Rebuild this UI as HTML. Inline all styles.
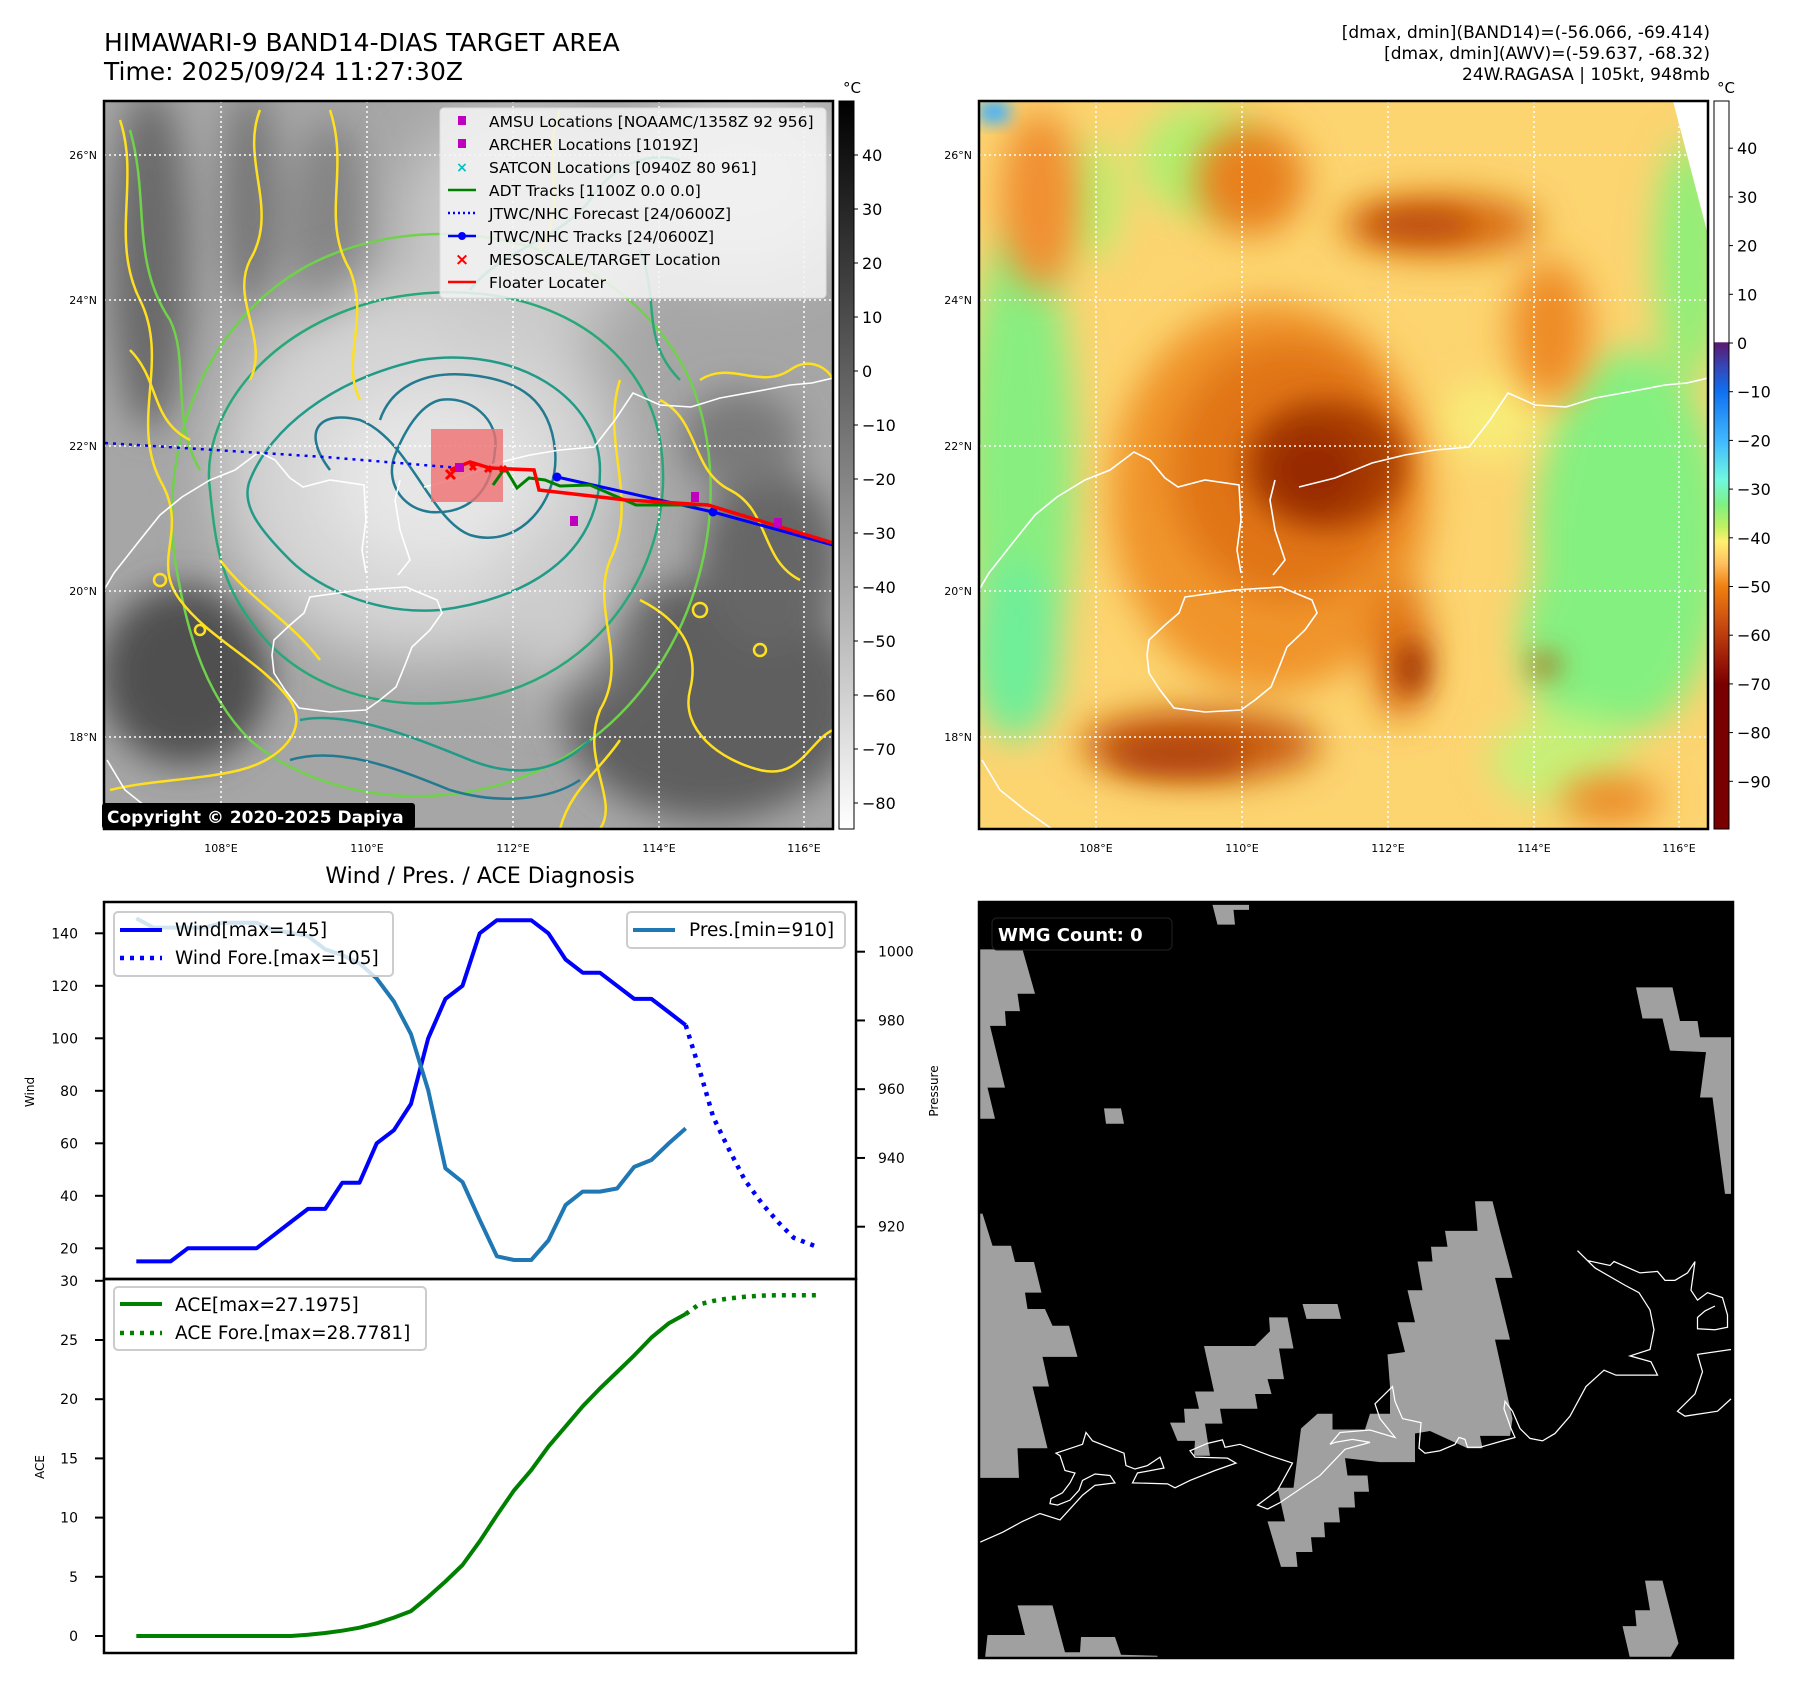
<!DOCTYPE html>
<html><head><meta charset="utf-8">
<style>
html,body{margin:0;padding:0;background:#fff;}
svg{display:block;font-family:"DejaVu Sans","Liberation Sans",sans-serif;}
</style></head>
<body>
<svg id="fig" width="1797" height="1690" viewBox="0 0 1797 1690" xmlns="http://www.w3.org/2000/svg">
<defs>
  <filter id="b8" x="-50%" y="-50%" width="200%" height="200%"><feGaussianBlur stdDeviation="8"/></filter>
  <filter id="b14" x="-50%" y="-50%" width="200%" height="200%"><feGaussianBlur stdDeviation="14"/></filter>
  <filter id="b18" x="-50%" y="-50%" width="200%" height="200%"><feGaussianBlur stdDeviation="18"/></filter>
  <filter id="b30" x="-50%" y="-50%" width="200%" height="200%"><feGaussianBlur stdDeviation="30"/></filter>
  <clipPath id="c1"><rect x="104" y="101" width="729" height="728"/></clipPath>
  <clipPath id="c2"><rect x="979" y="101" width="729" height="728"/></clipPath>
  <clipPath id="cw"><rect x="104" y="902" width="752" height="377"/></clipPath>
  <clipPath id="ca"><rect x="104" y="1279" width="752" height="374"/></clipPath>
  <linearGradient id="g1" x1="0" y1="0" x2="0" y2="1">
    <stop offset="0" stop-color="#000"/><stop offset="1" stop-color="#fff"/>
  </linearGradient>
  <linearGradient id="g2" x1="0" y1="0" x2="0" y2="1">
    <stop offset="0" stop-color="#fff"/><stop offset="0.331" stop-color="#fff"/>
    <stop offset="0.332" stop-color="#5a1a70"/><stop offset="0.366" stop-color="#3448b8"/>
    <stop offset="0.399" stop-color="#1070f0"/><stop offset="0.466" stop-color="#40b8ff"/>
    <stop offset="0.52" stop-color="#70f8e0"/><stop offset="0.555" stop-color="#80f080"/>
    <stop offset="0.585" stop-color="#c0f060"/><stop offset="0.605" stop-color="#fff070"/>
    <stop offset="0.635" stop-color="#ffc060"/><stop offset="0.667" stop-color="#f08010"/>
    <stop offset="0.72" stop-color="#c84a10"/><stop offset="0.77" stop-color="#9a1808"/>
    <stop offset="0.801" stop-color="#7a0000"/><stop offset="1" stop-color="#7a0000"/>
  </linearGradient>
</defs>

<text x="104" y="51" font-size="25">HIMAWARI-9 BAND14-DIAS TARGET AREA</text>
<text x="104" y="80" font-size="25">Time: 2025/09/24 11:27:30Z</text>
<g font-size="17" text-anchor="end">
  <text x="1710" y="38">[dmax, dmin](BAND14)=(-56.066, -69.414)</text>
  <text x="1710" y="59">[dmax, dmin](AWV)=(-59.637, -68.32)</text>
  <text x="1710" y="80">24W.RAGASA | 105kt, 948mb</text>
</g>

<!-- MAP 1 -->
<g clip-path="url(#c1)">
  <rect x="104" y="101" width="729" height="728" fill="#a6a6a6"/>
  <g filter="url(#b18)">
    <ellipse cx="150" cy="260" rx="40" ry="170" fill="#6a6a6a"/>
    <ellipse cx="250" cy="200" rx="28" ry="110" fill="#777"/>
    <ellipse cx="185" cy="675" rx="85" ry="90" fill="#505050"/>
    <ellipse cx="710" cy="700" rx="150" ry="120" fill="#5e5e5e"/>
    <ellipse cx="770" cy="560" rx="70" ry="90" fill="#666"/>
    <ellipse cx="330" cy="230" rx="40" ry="110" fill="#858585"/>
    <ellipse cx="740" cy="440" rx="60" ry="50" fill="#7a7a7a"/>
  </g>
  <g filter="url(#b30)">
    <ellipse cx="420" cy="470" rx="200" ry="190" fill="#d4d4d4"/>
    <ellipse cx="520" cy="230" rx="120" ry="120" fill="#cacaca"/>
    <ellipse cx="740" cy="180" rx="110" ry="90" fill="#d4d4d4"/>
    <ellipse cx="430" cy="480" rx="110" ry="90" fill="#e6e6e6"/>
    <ellipse cx="560" cy="600" rx="60" ry="90" fill="#cccccc"/>
  </g>
  <g fill="none" stroke-width="2.5">
    <path d="M440,400 C470,395 500,420 495,450 C492,490 470,515 430,512 C400,508 385,480 395,455 C405,430 420,405 440,400 Z" stroke="#237a90"/>
    <path d="M330,470 C300,430 320,410 360,420 C410,440 430,520 470,535 C520,550 560,500 555,450 C550,400 520,380 470,375 C420,370 390,390 380,420" stroke="#237a90"/>
    <path d="M250,480 C270,430 330,380 420,360 C520,345 600,400 600,470 C600,560 520,600 440,610 C380,615 320,590 290,560 C260,530 240,505 250,480 Z" stroke="#229a88"/>
    <path d="M210,490 C200,420 260,330 380,300 C520,270 640,330 660,440 C680,560 600,680 470,700 C370,715 290,680 250,620 C220,580 215,540 210,490 Z" stroke="#28a878"/>
    <path d="M175,560 C160,450 200,330 300,270 C420,200 620,230 690,380 C740,500 700,680 560,760 C450,820 320,800 250,740 C200,690 185,620 175,560 Z" stroke="#6fd24a"/>
    <path d="M300,720 C350,710 420,740 470,760 C520,780 560,770 590,740" stroke="#229a88"/>
    <path d="M290,760 C340,745 400,770 450,790 C500,805 550,800 580,780" stroke="#237a90"/>
    <path d="M470,290 C500,250 560,240 590,200 C610,170 640,150 680,160" stroke="#28a878"/>
    <path d="M130,130 C150,200 130,260 170,320 C190,360 170,420 200,470" stroke="#6fd24a"/>
    <path d="M640,250 C660,300 640,340 680,380" stroke="#28a878"/>
  </g>
  <g fill="none" stroke="#ffe020" stroke-width="2.5">
    <path d="M120,120 C140,180 110,240 140,300 C170,360 130,420 160,480 C190,530 150,560 180,600 C210,640 260,660 290,700 C310,730 280,760 240,770 C200,780 150,780 110,790"/>
    <path d="M260,110 C240,160 280,210 250,260 C230,300 270,340 250,380"/>
    <path d="M330,110 C350,170 320,220 350,270 C370,320 340,360 360,400"/>
    <path d="M620,380 C600,440 640,500 610,560 C590,610 630,660 600,710 C580,760 620,800 600,829"/>
    <path d="M660,400 C700,420 690,470 730,490 C770,510 760,560 800,580"/>
    <path d="M640,600 C680,620 700,650 690,690 C680,730 720,760 760,770 C800,780 810,740 833,730"/>
    <path d="M560,829 C570,790 600,770 620,740"/>
    <path d="M700,380 C730,360 760,390 790,370 C810,355 830,370 833,380"/>
    <path d="M130,350 C160,380 150,420 190,440"/>
    <path d="M220,560 C250,600 290,620 320,660"/>
    <path d="M560,110 C540,160 570,200 540,250"/>
    <circle cx="160" cy="580" r="6"/><circle cx="200" cy="630" r="5"/><circle cx="700" cy="610" r="7"/><circle cx="760" cy="650" r="6"/>
  </g>
  <g fill="none" stroke="#fff" stroke-width="1.6">
    <path id="coast" d="M104,590 L114,573 L140,540 L160,515 L182,497 L210,480 L235,470 L259,452 L275,460 L290,478 L303,487 L330,480 L364,485 L366,520 L362,550 L366,573 M400,480 L395,500 L400,530 L410,560 L398,575 M424,487 L460,478 L497,463 L530,455 L560,450 L594,447 L615,420 L633,393 L660,405 L691,407 L720,398 L764,390 L790,385 L812,383 L833,378 M107,760 L125,790 L150,810 L177,829 M310,597 L360,590 L406,587 L437,600 L442,613 L430,630 L412,647 L405,665 L396,687 L380,700 L366,710 L330,712 L299,708 L285,690 L274,673 L272,655 L274,640 L290,625 L304,613 Z"/>
  </g>
  <g stroke="#fff" stroke-width="1.5" stroke-dasharray="2 3">
    <line x1="104" y1="155" x2="833" y2="155"/><line x1="104" y1="300" x2="833" y2="300"/>
    <line x1="104" y1="446" x2="833" y2="446"/><line x1="104" y1="591" x2="833" y2="591"/>
    <line x1="104" y1="737" x2="833" y2="737"/>
    <line x1="221" y1="101" x2="221" y2="829"/><line x1="367" y1="101" x2="367" y2="829"/>
    <line x1="513" y1="101" x2="513" y2="829"/><line x1="659" y1="101" x2="659" y2="829"/>
    <line x1="804" y1="101" x2="804" y2="829"/>
  </g>
  <rect x="431" y="429" width="72" height="73" fill="#f07070" fill-opacity="0.8"/>
  <polyline points="105,443 325,457 460,468" fill="none" stroke="#0000ff" stroke-width="2.5" stroke-dasharray="3 5"/>
  <polyline points="557,477 713,512 833,545" fill="none" stroke="#0000ff" stroke-width="3"/>
  <circle cx="557" cy="477" r="4.5" fill="#0000ff"/><circle cx="713" cy="512" r="4.5" fill="#0000ff"/>
  <polyline points="493,485 505,468 517,488 529,478 545,480 560,486 590,485 636,505 705,505" fill="none" stroke="#008000" stroke-width="3"/>
  <polyline points="450,470 470,462 490,468 534,470 539,490 626,500 708,505 833,543" fill="none" stroke="#ff0000" stroke-width="3.5"/>
  <g stroke="#ff0000" stroke-width="3">
    <path d="M446,470 l9,9 m0,-9 l-9,9"/><path d="M470,464 l6,6 m0,-6 l-6,6"/><path d="M485,466 l6,6 m0,-6 l-6,6"/><path d="M500,466 l6,6 m0,-6 l-6,6"/>
  </g>
  <g fill="#c000c0">
    <rect x="455" y="463" width="9" height="9"/><rect x="570" y="516" width="8" height="10"/><rect x="691" y="492" width="8" height="10"/><rect x="774" y="518" width="8" height="9"/>
  </g>
</g>
<rect x="104" y="101" width="729" height="728" fill="none" stroke="#000" stroke-width="2.5"/>

<g>
  <rect x="440" y="108" width="386" height="190" rx="4" fill="#f4f4f4" fill-opacity="0.85" stroke="#ddd"/>
  <g font-size="15.5">
    <rect x="458" y="116" width="8" height="9" fill="#c000c0"/><text x="489" y="127">AMSU Locations [NOAAMC/1358Z 92 956]</text>
    <rect x="458" y="139" width="8" height="9" fill="#c000c0"/><text x="489" y="150">ARCHER Locations [1019Z]</text>
    <text x="462" y="172" text-anchor="middle" fill="#00c0c0" font-weight="bold" font-size="14">×</text><text x="489" y="173">SATCON Locations [0940Z 80 961]</text>
    <line x1="448" y1="190" x2="476" y2="190" stroke="#008000" stroke-width="2.5"/><text x="489" y="196">ADT Tracks [1100Z 0.0 0.0]</text>
    <line x1="448" y1="213" x2="476" y2="213" stroke="#0000ff" stroke-width="2.5" stroke-dasharray="2 3"/><text x="489" y="219">JTWC/NHC Forecast [24/0600Z]</text>
    <line x1="448" y1="236" x2="476" y2="236" stroke="#0000ff" stroke-width="2.5"/><circle cx="462" cy="236" r="4" fill="#0000ff"/><text x="489" y="242">JTWC/NHC Tracks [24/0600Z]</text>
    <text x="462" y="265" text-anchor="middle" fill="#ff0000" font-weight="bold" font-size="17">×</text><text x="489" y="265">MESOSCALE/TARGET Location</text>
    <line x1="448" y1="282" x2="476" y2="282" stroke="#ff0000" stroke-width="2.5"/><text x="489" y="288">Floater Locater</text>
  </g>
</g>
<g>
  <rect x="102" y="803" width="313" height="26" rx="3" fill="#000"/>
  <text x="107" y="823" fill="#fff" font-size="17" font-weight="bold">Copyright © 2020-2025 Dapiya</text>
</g>
<g font-size="11" text-anchor="end">
  <text x="97" y="159">26°N</text><text x="97" y="304">24°N</text><text x="97" y="450">22°N</text><text x="97" y="595">20°N</text><text x="97" y="741">18°N</text>
</g>
<g font-size="11" text-anchor="middle">
  <text x="221" y="852">108°E</text><text x="367" y="852">110°E</text><text x="513" y="852">112°E</text><text x="659" y="852">114°E</text><text x="804" y="852">116°E</text>
</g>
<g>
  <rect x="839" y="101" width="15" height="728" fill="url(#g1)" stroke="#000" stroke-width="1"/>
  <text x="852" y="93" font-size="15" text-anchor="middle">°C</text>
  <g font-size="16" id="cb1labels"></g>
</g>

<!-- MAP 2 -->
<g clip-path="url(#c2)">
  <rect x="979" y="101" width="729" height="728" fill="#fcd470"/>
  <g filter="url(#b18)">
    <ellipse cx="1020" cy="470" rx="55" ry="240" fill="#88ee80"/>
    <ellipse cx="1015" cy="650" rx="45" ry="90" fill="#70ee98"/>
    <ellipse cx="1630" cy="540" rx="95" ry="190" fill="#84f080"/>
    <ellipse cx="1590" cy="640" rx="70" ry="90" fill="#84f080"/>
    <ellipse cx="1690" cy="260" rx="35" ry="120" fill="#90ef78"/>
    <ellipse cx="1200" cy="160" rx="60" ry="55" fill="#b0f070"/>
    <ellipse cx="1560" cy="760" rx="70" ry="45" fill="#c8f078"/>
    <ellipse cx="1090" cy="200" rx="30" ry="60" fill="#b8f070"/>
    <ellipse cx="1490" cy="420" rx="50" ry="40" fill="#f8ec78"/>
  </g>
  <g filter="url(#b18)">
    <ellipse cx="1040" cy="200" rx="40" ry="90" fill="#f09030"/>
    <ellipse cx="1270" cy="497" rx="160" ry="195" fill="#f0942a"/>
    <ellipse cx="1290" cy="470" rx="120" ry="130" fill="#e07418"/>
    <ellipse cx="1250" cy="180" rx="55" ry="55" fill="#e8801c"/>
    <ellipse cx="1440" cy="225" rx="100" ry="30" fill="#d86a10"/>
    <ellipse cx="1550" cy="330" rx="40" ry="70" fill="#ee8c28"/>
    <ellipse cx="1200" cy="745" rx="120" ry="35" fill="#c85a0c"/>
    <ellipse cx="1400" cy="650" rx="30" ry="70" fill="#e07418"/>
    <ellipse cx="1610" cy="800" rx="50" ry="25" fill="#ec8a28"/>
  </g>
  <g filter="url(#b14)">
    <ellipse cx="1325" cy="465" rx="80" ry="65" fill="#a83c06"/>
    <ellipse cx="1315" cy="470" rx="45" ry="40" fill="#982c02"/>
    <ellipse cx="1412" cy="668" rx="14" ry="28" fill="#952c02"/>
    <ellipse cx="1180" cy="755" rx="70" ry="18" fill="#b04408"/>
    <ellipse cx="1420" cy="225" rx="55" ry="14" fill="#b84c08"/>
    <ellipse cx="1545" cy="665" rx="15" ry="10" fill="#b04408"/>
  </g>
  <rect x="979" y="101" width="30" height="22" fill="#40b0ff" filter="url(#b8)"/>
  <polygon points="1673,101 1708,101 1708,235" fill="#fff"/>
  <use href="#coast" transform="translate(875,0)" fill="none" stroke="#fff" stroke-width="1.6"/>
  <g stroke="#fff" stroke-width="1.5" stroke-dasharray="2 3">
    <line x1="979" y1="155" x2="1708" y2="155"/><line x1="979" y1="300" x2="1708" y2="300"/>
    <line x1="979" y1="446" x2="1708" y2="446"/><line x1="979" y1="591" x2="1708" y2="591"/>
    <line x1="979" y1="737" x2="1708" y2="737"/>
    <line x1="1096" y1="101" x2="1096" y2="829"/><line x1="1242" y1="101" x2="1242" y2="829"/>
    <line x1="1388" y1="101" x2="1388" y2="829"/><line x1="1534" y1="101" x2="1534" y2="829"/>
    <line x1="1679" y1="101" x2="1679" y2="829"/>
  </g>
</g>
<rect x="979" y="101" width="729" height="728" fill="none" stroke="#000" stroke-width="2.5"/>
<g font-size="11" text-anchor="end">
  <text x="972" y="159">26°N</text><text x="972" y="304">24°N</text><text x="972" y="450">22°N</text><text x="972" y="595">20°N</text><text x="972" y="741">18°N</text>
</g>
<g font-size="11" text-anchor="middle">
  <text x="1096" y="852">108°E</text><text x="1242" y="852">110°E</text><text x="1388" y="852">112°E</text><text x="1534" y="852">114°E</text><text x="1679" y="852">116°E</text>
</g>
<g>
  <rect x="1714" y="101" width="15" height="728" fill="url(#g2)" stroke="#000" stroke-width="1"/>
  <text x="1726" y="93" font-size="15" text-anchor="middle">°C</text>
  <g font-size="16" id="cb2labels"></g>
</g>

<!-- WMG panel -->
<g>
  <rect x="979" y="902" width="754" height="756" fill="#000"/>
  <g transform="translate(975,895) scale(0.5,0.494)" fill="#a0a0a0">
    <polygon points="10,110 95,110 120,200 85,200 90,235 60,235 62,265 30,265 60,390 25,390 40,453 10,453"/>
    <polygon points="475,20 548,20 548,30 517,30 520,60 485,60"/>
    <polygon points="1322,187 1395,187 1410,255 1445,255 1450,288 1512,288 1512,605 1500,605 1475,410 1450,410 1462,318 1390,315 1375,250 1335,250"/>
    <polygon points="258,432 292,432 298,463 262,463"/>
    <polygon points="10,645 15,645 35,710 72,710 80,743 118,743 133,805 100,805 105,838 140,838 155,872 188,872 205,935 135,935 148,995 115,995 145,1120 85,1120 88,1180 10,1180"/>
    <polygon points="1000,620 1035,620 1050,680 1075,775 1040,775 1070,900 1040,900 1075,1060 1070,1095 1010,1095 1015,1120 985,1120 910,1085 880,1090 880,1148 810,1148 740,1140 745,1175 785,1175 788,1208 758,1208 760,1240 727,1240 730,1270 698,1270 700,1300 672,1300 675,1330 642,1330 645,1360 612,1360 585,1268 620,1268 605,1200 637,1200 652,1080 685,1050 715,1050 715,1082 780,1082 790,1050 830,1050 830,995 825,930 860,925 845,865 880,865 865,800 895,800 885,742 915,742 912,712 945,712 940,680 1005,680"/>
    <polygon points="458,913 560,913 590,883 588,855 625,855 637,918 608,918 618,980 585,980 593,1010 560,1010 565,1040 490,1040 495,1070 460,1070 470,1135 438,1135 440,1105 405,1105 390,1068 420,1068 418,1040 448,1040 440,1005 478,1005"/>
    <polygon points="655,828 725,828 732,858 663,858"/>
    <polygon points="25,1498 100,1498 85,1438 155,1438 180,1533 210,1533 212,1502 280,1502 292,1538 365,1540 365,1545 20,1545"/>
    <polygon points="1340,1388 1375,1388 1407,1515 1390,1545 1310,1545 1295,1480 1323,1480 1320,1448 1350,1448"/>
    <g fill="none" stroke="#fff" stroke-width="2.5">
      <polyline points="10,1310 55,1290 95,1268 130,1252 170,1265 215,1215 240,1195 280,1190 270,1175 240,1172 215,1185 208,1205 190,1225 165,1235 150,1232 152,1222 175,1210 190,1190 200,1170 180,1165 170,1135 162,1130 215,1112 222,1088 235,1105 298,1130 302,1155 320,1162 345,1155 370,1138 378,1160 325,1170 315,1190 385,1192 400,1200 430,1185 480,1165 522,1150 505,1140 440,1138 430,1125 465,1110 495,1103 500,1118 530,1112 590,1135 635,1150 605,1205 565,1235 585,1243 610,1230 690,1175 740,1122 790,1108 755,1102 720,1108 710,1112 730,1088 790,1083 840,1098 810,1060 800,1030 835,995 840,1025 855,1060 892,1068 888,1120 900,1130 930,1125 960,1112 968,1098 980,1102 985,1118 1010,1118 1055,1105 1080,1098 1072,1080 1058,1040 1060,1025 1075,1045 1090,1080 1110,1100 1135,1105 1160,1090 1190,1055 1222,995 1258,962 1282,972 1365,972 1352,945 1310,933 1350,920 1358,880 1350,840 1328,805 1300,790 1240,755 1205,720 1225,740 1270,750 1278,742 1330,765 1365,762 1380,780 1400,780 1425,765 1440,742 1432,800 1445,820 1465,805 1495,815 1505,850 1505,875 1480,880 1445,878 1445,855 1460,842 1480,832"/>
      <polyline points="1512,920 1445,930 1455,965 1440,1010 1405,1045 1420,1055 1485,1045 1512,1020"/>
    </g>
  </g>
  <rect x="979" y="902" width="754" height="756" fill="none" stroke="#000" stroke-width="2.5"/>
  <rect x="992" y="918" width="180" height="32" rx="5" fill="#000" stroke="#222"/>
  <text x="998" y="941" fill="#fff" font-size="18" font-weight="bold">WMG Count: 0</text>
</g>

<text x="480" y="883" font-size="22" text-anchor="middle">Wind / Pres. / ACE Diagnosis</text>
<g id="chart"></g>
</svg>

<script>
// ---- data ----
const obsTime = [0,1,2,3,4,5,6,7,8,9,10,11,12,13,14,15,16,17,18,19,20,21,22,23,24,25,26,27,28,29,30,31,32];
const windObs = [15,15,15,20,20,20,20,20,25,30,35,35,45,45,60,65,75,100,115,120,140,145,145,145,140,130,125,125,120,115,115,110,105];
const presObs = [1009.7,1007,1007,1007,1007,1008.4,1008.4,1008.4,1006.3,1005.5,1004.5,1000.7,999,996.6,992.2,985.5,976,959.7,937,933,922,911.4,910.3,910.3,916,926.3,930.2,930.2,931.1,937.4,939.4,944.2,948.6];
const aceObs = [0,0,0,0,0,0,0,0,0,0,0.1,0.25,0.45,0.7,1.07,1.55,2.1,3.3,4.6,6.0,8.0,10.2,12.3,14.0,16.0,17.7,19.4,20.9,22.3,23.7,25.2,26.4,27.2];
const fcstTime = [32,32.76,33.6,34.44,35.44,36.45,37.45,38.29,39.63];
const windFcst = [105,89,70,58.7,46,37,29.5,24,20.6];
const aceFcst = [27.2,28.0,28.3,28.5,28.65,28.75,28.78,28.78,28.78];
const windTicks = [20,40,60,80,100,120,140];
const presTicks = [920,940,960,980,1000];
const aceTicks = [0,5,10,15,20,25,30];
const cb1Ticks = [40,30,20,10,0,-10,-20,-30,-40,-50,-60,-70,-80];
const cb2Ticks = [40,30,20,10,0,-10,-20,-30,-40,-50,-60,-70,-80,-90];

// ---- scales ----
const xT = t => 136.3 + 17.17 * t;
const yW = v => 1248.3 - (v - 20) * 2.625;
const yP = p => 1226.7 - (p - 920) * 3.4375;
const yA = a => 1636 - a * 11.84;
const yCb1 = v => 155 + (40 - v) * 5.4;
const yCb2 = v => 343 - v * 4.87;

const NS = 'http://www.w3.org/2000/svg';
const chart = document.getElementById('chart');
function mk(tag, attrs, parent) {
  const e = document.createElementNS(NS, tag);
  for (const k in attrs) e.setAttribute(k, attrs[k]);
  (parent || chart).appendChild(e);
  return e;
}
function txt(x, y, s, anchor, size, parent) {
  const t = mk('text', {x: x, y: y, 'text-anchor': anchor, 'font-size': size}, parent);
  t.textContent = s;
  return t;
}
function pts(xs, ys, fx, fy) { return xs.map((t, i) => fx(t).toFixed(1) + ',' + fy(ys[i]).toFixed(1)).join(' '); }

const cb1 = document.getElementById('cb1labels');
cb1Ticks.forEach(v => {
  const y = yCb1(v);
  mk('line', {x1: 854, y1: y, x2: 858, y2: y, stroke: '#000'}, cb1);
  const t = txt(862, y + 6, (v < 0 ? '\u2212' + (-v) : '' + v), 'start', 16, cb1);
  
  
});
const cb2 = document.getElementById('cb2labels');
cb2Ticks.forEach(v => {
  const y = yCb2(v);
  mk('line', {x1: 1729, y1: y, x2: 1733, y2: y, stroke: '#000'}, cb2);
  const t = txt(1737, y + 6, (v < 0 ? '\u2212' + (-v) : '' + v), 'start', 16, cb2);
  
  
});

const gw = mk('g', {'clip-path': 'url(#cw)'});


const lw = mk('polyline', {points: pts(obsTime, windObs, xT, yW), fill: 'none', stroke: '#0000ff', 'stroke-width': 4, 'stroke-linejoin': 'round'}, gw);


const lwf = mk('polyline', {points: pts(fcstTime, windFcst, xT, yW), fill: 'none', stroke: '#0000ff', 'stroke-width': 4.5, 'stroke-dasharray': '4 6'}, gw);


const lp = mk('polyline', {points: pts(obsTime, presObs, xT, yP), fill: 'none', stroke: '#1f77b4', 'stroke-width': 4, 'stroke-linejoin': 'round'}, gw);



const ga = mk('g', {'clip-path': 'url(#ca)'});


const la = mk('polyline', {points: pts(obsTime, aceObs, xT, yA), fill: 'none', stroke: '#008000', 'stroke-width': 4, 'stroke-linejoin': 'round'}, ga);


const laf = mk('polyline', {points: pts(fcstTime, aceFcst, xT, yA), fill: 'none', stroke: '#008000', 'stroke-width': 4.5, 'stroke-dasharray': '4 6'}, ga);



mk('rect', {x: 104, y: 902, width: 752, height: 377, fill: 'none', stroke: '#000', 'stroke-width': 2.5});
mk('rect', {x: 104, y: 1279, width: 752, height: 374, fill: 'none', stroke: '#000', 'stroke-width': 2.5});

windTicks.forEach(v => {
  const y = yW(v);
  mk('line', {x1: 95, y1: y, x2: 104, y2: y, stroke: '#000', 'stroke-width': 2});
  const t = txt(78, y + 5, '' + v, 'end', 14);
  
  
});
presTicks.forEach(v => {
  const y = yP(v);
  mk('line', {x1: 856, y1: y, x2: 865, y2: y, stroke: '#000', 'stroke-width': 2});
  const t = txt(878, y + 5, '' + v, 'start', 14);
  
  
});
aceTicks.forEach(v => {
  const y = yA(v);
  mk('line', {x1: 95, y1: y, x2: 104, y2: y, stroke: '#000', 'stroke-width': 2});
  const t = txt(78, y + 5, '' + v, 'end', 14);
  
  
});

const yt1 = txt(0, 0, 'Wind', 'middle', 12);
yt1.setAttribute('transform', 'translate(34,1092) rotate(-90)');


const yt2 = txt(0, 0, 'Pressure', 'middle', 12);
yt2.setAttribute('transform', 'translate(938,1091) rotate(-90)');


const yt3 = txt(0, 0, 'ACE', 'middle', 12);
yt3.setAttribute('transform', 'translate(44,1467) rotate(-90)');



const lg1 = mk('g', {});


mk('rect', {x: 114, y: 912, width: 279, height: 64, rx: 4, fill: '#fff', 'fill-opacity': 0.8, stroke: '#ccc', 'stroke-width': 2}, lg1);
mk('line', {x1: 120, y1: 930, x2: 162, y2: 930, stroke: '#0000ff', 'stroke-width': 4}, lg1);
txt(175, 936, 'Wind[max=145]', 'start', 18.5, lg1);
mk('line', {x1: 120, y1: 958, x2: 162, y2: 958, stroke: '#0000ff', 'stroke-width': 4.5, 'stroke-dasharray': '4 6'}, lg1);
txt(175, 964, 'Wind Fore.[max=105]', 'start', 18.5, lg1);
const lg2 = mk('g', {});


mk('rect', {x: 627, y: 912, width: 218, height: 36, rx: 4, fill: '#fff', 'fill-opacity': 0.8, stroke: '#ccc', 'stroke-width': 2}, lg2);
mk('line', {x1: 633, y1: 930, x2: 675, y2: 930, stroke: '#1f77b4', 'stroke-width': 4}, lg2);
txt(689, 936, 'Pres.[min=910]', 'start', 18.5, lg2);
const lg3 = mk('g', {});


mk('rect', {x: 114, y: 1287, width: 312, height: 63, rx: 4, fill: '#fff', 'fill-opacity': 0.8, stroke: '#ccc', 'stroke-width': 2}, lg3);
mk('line', {x1: 120, y1: 1304, x2: 162, y2: 1304, stroke: '#008000', 'stroke-width': 4}, lg3);
txt(175, 1311, 'ACE[max=27.1975]', 'start', 18.5, lg3);
mk('line', {x1: 120, y1: 1333, x2: 162, y2: 1333, stroke: '#008000', 'stroke-width': 4.5, 'stroke-dasharray': '4 6'}, lg3);
txt(175, 1339, 'ACE Fore.[max=28.7781]', 'start', 18.5, lg3);
</script>
</body></html>
